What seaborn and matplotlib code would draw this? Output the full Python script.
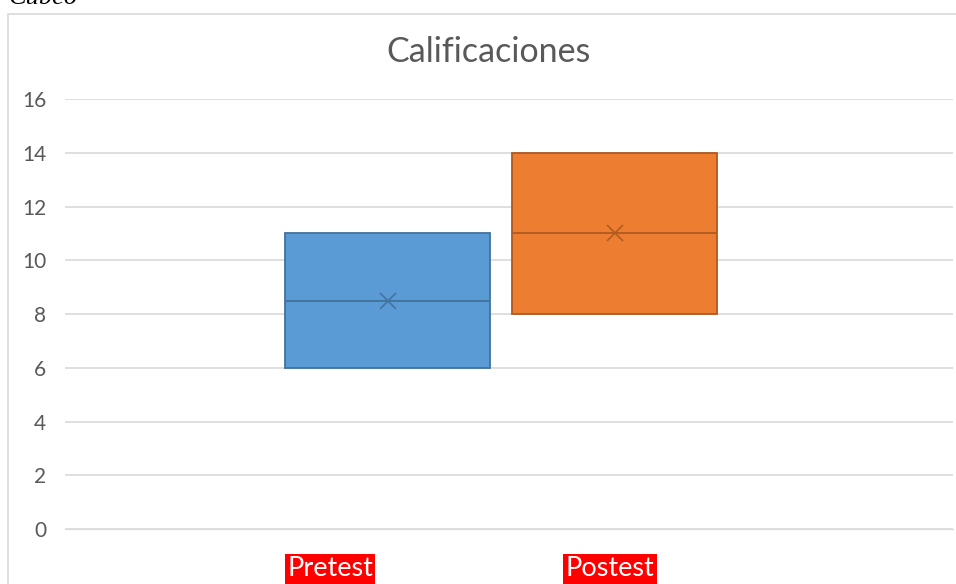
import pandas as pd
import matplotlib.pyplot as plt
import seaborn as sns
from matplotlib.patches import Rectangle

# data: raw scores chosen so quartiles/median/mean match the chart
grupos = ["Pretest", "Postest"]
pretest = [6, 6, 8.5, 11, 11]
postest = [8, 8, 11, 14, 14]
colores = ["#5B9BD5", "#ED7D31"]
bordes = ["#41719C", "#AE5A21"]

def Calificaciones_main():
    NotasDf = pd.DataFrame({
        "grupo": ["Pretest"] * len(pretest) + ["Postest"] * len(postest),
        "nota": pretest + postest,
    })

    sns.set_style("white")
    fig = plt.figure(figsize=(9.56, 5.84), dpi=100)
    ax = fig.add_axes([65 / 956, 1 - 529 / 584, (953 - 65) / 956, 430 / 584])

    sns.boxplot(
        data=NotasDf, x="grupo", y="nota", hue="grupo", order=grupos,
        palette=colores, saturation=1, width=0.9, whis=0, showcaps=False,
        showfliers=False, showmeans=True, legend=False, ax=ax, linewidth=1.3,
        meanprops=dict(marker="x", markersize=12, markeredgewidth=1.1),
    )

    # per-box edge colours like Excel
    for cont, c in zip(ax.containers, bordes):
        for b in cont.boxes:
            b.set_edgecolor(c)
        for ln in list(cont.medians) + list(cont.whiskers) + list(cont.means):
            ln.set_color(c)
            ln.set_markeredgecolor(c)

    ax.set_xlim(-1.421, 2.491)
    ax.set_ylim(0, 16)
    ax.set_yticks(range(0, 17, 2))
    ax.yaxis.grid(True, color="#d9d9d9", linewidth=1.2)
    ax.set_axisbelow(True)
    ax.set_xticks([])
    ax.set_xlabel("")
    ax.set_ylabel("")
    sns.despine(ax=ax, left=True, bottom=True)
    ax.spines["bottom"].set_visible(True)
    ax.spines["bottom"].set_color("#d9d9d9")
    ax.tick_params(axis="y", length=0, pad=13.5, labelsize=15, labelcolor="#595959")
    for t in ax.get_yticklabels():
        t.set_family("Lato")

    # chart border
    fig.patches.append(Rectangle((8 / 956, -0.1), 1.2, 1 - 14 / 584 + 0.1,
                                 transform=fig.transFigure, fill=False,
                                 edgecolor="#d9d9d9", linewidth=1.2))

    fig.text(489 / 956, 1 - 52 / 584, "Calificaciones", ha="center", va="center",
             fontsize=24.5, color="#595959", family="Lato")

    # clipped caption above the chart
    fig.text(9 / 956, 1 - 4 / 584, "Cubeo", ha="left", va="baseline",
             fontsize=19, fontstyle="italic", family="Liberation Serif", color="black")

    for nombre, xpos in zip(grupos, [330, 610]):
        fig.text(xpos / 956, 1 - 569 / 584, nombre, ha="center", va="center",
                 fontsize=19.5, color="white", family="Lato",
                 bbox=dict(facecolor="#FF0000", edgecolor="none", pad=1.5))

    plt.savefig("out.png", dpi=100)
    plt.close()


Calificaciones_main()
